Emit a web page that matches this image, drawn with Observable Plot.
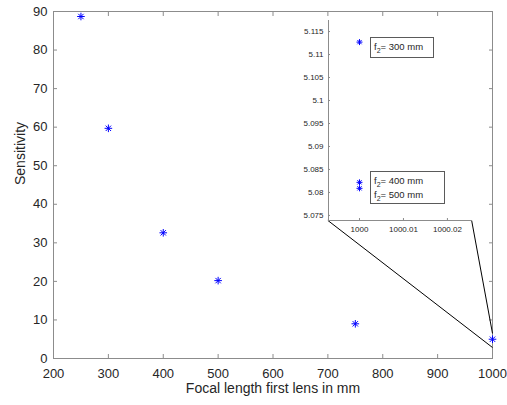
<!DOCTYPE html>
<html><head><meta charset="utf-8">
<script src="https://cdn.jsdelivr.net/npm/d3@7"></script>
<script src="https://cdn.jsdelivr.net/npm/@observablehq/plot@0.6"></script>
<style>
body{margin:0;background:#fff;}
#wrap{position:relative;width:507px;height:405px;font-family:"Liberation Sans",Arial,sans-serif;color:#262626;}
#wrap svg{position:absolute;left:0;top:0;}
.box{position:absolute;background:#fff;border:1px solid #5a5a5a;font-size:9.5px;line-height:14px;padding-left:3px;box-sizing:border-box;white-space:nowrap;}
.box sub{font-size:7px;vertical-align:-3px;line-height:0;}
</style></head><body><div id="wrap"></div>
<script>
// main data
const focal = [250, 300, 400, 500, 750, 1000];
const sensitivity = [88.7, 59.7, 32.6, 20.2, 9.0, 5.0];
// inset data (zoom around f1 = 1000 mm)
const insetFocal = [1000, 1000, 1000];
const insetSens = [5.1127, 5.0822, 5.0809];
const insetF2 = ["300", "400", "500"];
// ticks
const xTicks = [200, 300, 400, 500, 600, 700, 800, 900, 1000];
const yTicks = [0, 10, 20, 30, 40, 50, 60, 70, 80, 90];
const insetXTicks = [1000, 1000.01, 1000.02];
const insetYTicks = [5.075, 5.08, 5.085, 5.09, 5.095, 5.1, 5.105, 5.11, 5.115];
const insetXDomain = [999.99295, 1000.0257];
const insetYDomain = [5.0739, 5.1174];
// zoom connector lines (main data coordinates)
const connX1 = [700, 962];
const connY1 = [35.8, 35.8];
const connX2 = [1000, 1000];
const connY2 = [2.85, 6.5];

const axisGray = "#8c8c8c";
const textCol = "#262626";
const blue = "#0000ff";
const font = '"Liberation Sans", Arial, sans-serif';

const asterisk = {draw(ctx, size) {
  const r = Math.sqrt(size / Math.PI);
  for (let i = 0; i < 4; i++) {
    const a = i * Math.PI / 4, c = Math.cos(a) * r, s = Math.sin(a) * r;
    ctx.moveTo(-c, -s); ctx.lineTo(c, s);
  }
}};

const mainData = focal.map((f, i) => ({f, s: sensitivity[i]}));
const conn = connX1.map((x, i) => ({x1: x, y1: connY1[i], x2: connX2[i], y2: connY2[i]}));
const insetData = insetFocal.map((f, i) => ({f, s: insetSens[i], f2: insetF2[i]}));

const main = Plot.plot({
  width: 507, height: 405,
  marginLeft: 53, marginRight: 15, marginTop: 11, marginBottom: 47,
  style: {fontFamily: font, fontSize: "13px", color: textCol, background: "white"},
  x: {domain: [200, 1000]},
  y: {domain: [0, 90]},
  marks: [
    Plot.frame({stroke: axisGray}),
    Plot.axisX(xTicks, {anchor: "bottom", tickSize: -4, tickFormat: () => "", stroke: axisGray, label: null}),
    Plot.axisX(xTicks, {anchor: "top", tickSize: -4, tickFormat: () => "", stroke: axisGray, label: null}),
    Plot.axisY(yTicks, {anchor: "left", tickSize: -4, tickFormat: () => "", stroke: axisGray, label: null}),
    Plot.axisY(yTicks, {anchor: "right", tickSize: -4, tickFormat: () => "", stroke: axisGray, label: null}),
    Plot.axisX(xTicks, {anchor: "bottom", tickSize: 0, tickPadding: 10, tickFormat: d => String(d), fill: textCol, label: null}),
    Plot.axisY(yTicks, {anchor: "left", tickSize: 0, tickPadding: 6, tickFormat: d => String(d), fill: textCol, label: null}),
    Plot.text(["Focal length first lens in mm"], {frameAnchor: "bottom", dy: 34, fontSize: 14, fill: textCol}),
    Plot.text(["Sensitivity"], {frameAnchor: "left", rotate: -90, dx: -33, fontSize: 14, fill: textCol}),
    Plot.link(conn, {x1: "x1", y1: "y1", x2: "x2", y2: "y2", stroke: "black", strokeWidth: 1}),
    Plot.dot(mainData, {x: "f", y: "s", symbol: asterisk, r: 3.8, fill: "none", stroke: blue, strokeWidth: 1})
  ]
});

const inset = Plot.plot({
  width: 507, height: 405,
  marginLeft: 328, marginRight: 35, marginTop: 20, marginBottom: 185,
  style: {fontFamily: font, fontSize: "8px", color: textCol, background: "transparent"},
  x: {domain: insetXDomain},
  y: {domain: insetYDomain},
  marks: [
    Plot.ruleX([insetXDomain[0]], {stroke: axisGray}),
    Plot.ruleY([insetYDomain[0]], {stroke: axisGray}),
    Plot.axisX(insetXTicks, {anchor: "bottom", tickSize: -2, tickFormat: () => "", stroke: axisGray, label: null}),
    Plot.axisY(insetYTicks, {anchor: "left", tickSize: -2, tickFormat: () => "", stroke: axisGray, label: null}),
    Plot.axisX(insetXTicks, {anchor: "bottom", tickSize: 0, tickPadding: 6, tickFormat: d => String(d), fill: textCol, label: null}),
    Plot.axisY(insetYTicks, {anchor: "left", tickSize: 0, tickPadding: 5, tickFormat: d => String(d), fill: textCol, label: null}),
    Plot.dot(insetData, {x: "f", y: "s", symbol: asterisk, r: 3, fill: "none", stroke: blue, strokeWidth: 1})
  ]
});

const wrap = document.getElementById("wrap");
wrap.appendChild(main);
wrap.appendChild(inset);

function addBox(lines, left, top, w, h) {
  const div = document.createElement("div");
  div.className = "box";
  Object.assign(div.style, {left: left + "px", top: top + "px", width: w + "px", height: h + "px", paddingTop: "2px"});
  div.innerHTML = lines.map(v => `<div>f<sub>2</sub>= ${v} mm</div>`).join("");
  wrap.appendChild(div);
}
addBox([insetF2[0]], 370, 37, 64, 21);
addBox([insetF2[1], insetF2[2]], 370, 171, 75, 33);
</script></body></html>
